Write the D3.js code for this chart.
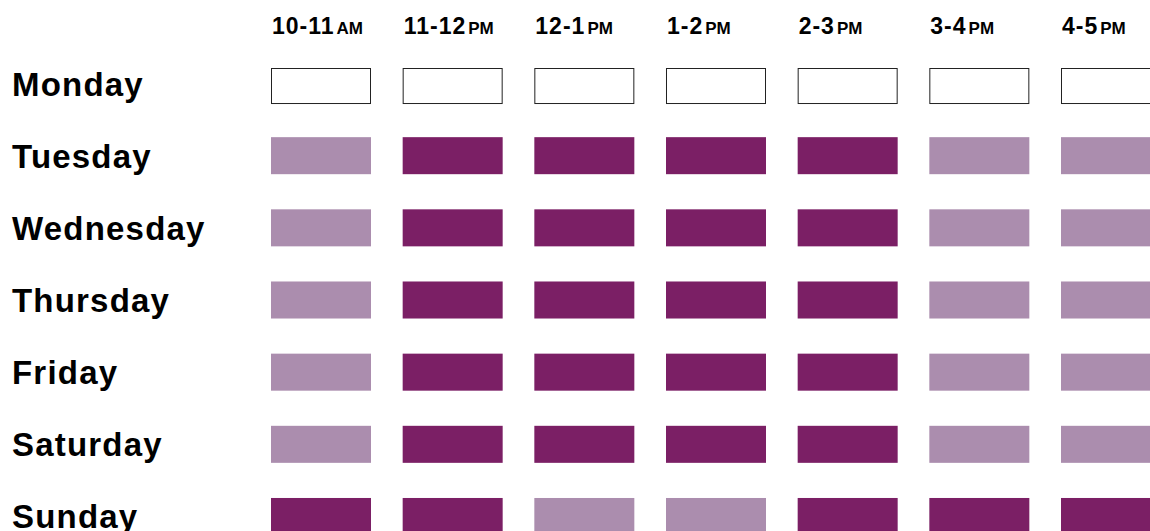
<!DOCTYPE html>
<html>
<head>
<meta charset="utf-8">
<script src="https://cdn.jsdelivr.net/npm/d3@7"></script>
<style>
  html, body { margin: 0; padding: 0; background: #fff; overflow: hidden; }
  text { font-family: "Liberation Sans", Arial, sans-serif; font-weight: bold; fill: #000; }
</style>
</head>
<body>
<div id="chart"></div>
<script>
// 曜日と時間帯
const days = ['Monday', 'Tuesday', 'Wednesday', 'Thursday', 'Friday', 'Saturday', 'Sunday'];
const hourNums = ['10-11', '11-12', '12-1', '1-2', '2-3', '3-4', '4-5'];
const hourSuffix = ['AM', 'PM', 'PM', 'PM', 'PM', 'PM', 'PM'];

// 0 = 枠のみ, 1 = 薄い, 2 = 濃い
const monday    = [0, 0, 0, 0, 0, 0, 0];
const tuesday   = [1, 2, 2, 2, 2, 1, 1];
const wednesday = [1, 2, 2, 2, 2, 1, 1];
const thursday  = [1, 2, 2, 2, 2, 1, 1];
const friday    = [1, 2, 2, 2, 2, 1, 1];
const saturday  = [1, 2, 2, 2, 2, 1, 1];
const sunday    = [2, 2, 1, 1, 2, 2, 2];
const levels = [monday, tuesday, wednesday, thursday, friday, saturday, sunday];

const width = 1150;
const height = 531;

const svg = d3.select('#chart')
  .append('svg')
  .attr('width', width)
  .attr('height', height);

const x = d3.scaleBand()
  .domain(hourNums)
  .range([271, 1161])
  .paddingInner(0.2405)
  .paddingOuter(0);

const y = d3.scaleBand()
  .domain(days)
  .range([65, 535])
  .paddingInner(0.487)
  .paddingOuter(0);

const color = d3.scaleOrdinal()
  .domain([1, 2])
  .range(['#ab8dae', '#7b1f65']);

// セルのデータを作る
const cells = [];
days.forEach((day, i) => {
  hourNums.forEach((h, j) => {
    cells.push({ day: day, hour: h, level: levels[i][j] });
  });
});

svg.append('g')
  .selectAll('rect')
  .data(cells)
  .enter()
  .append('rect')
  .attr('x', d => d.level === 0 ? x(d.hour) + 0.5 : x(d.hour))
  .attr('y', d => d.level === 0 ? y(d.day) + 3.5 : y(d.day))
  .attr('width', d => d.level === 0 ? x.bandwidth() - 1 : x.bandwidth())
  .attr('height', d => d.level === 0 ? y.bandwidth() - 2 : y.bandwidth())
  .attr('fill', d => d.level === 0 ? '#fff' : color(d.level))
  .attr('stroke', d => d.level === 0 ? '#222' : 'none')
  .attr('stroke-width', 1);

// 曜日ラベル
svg.append('g')
  .selectAll('text')
  .data(days)
  .enter()
  .append('text')
  .attr('x', 12)
  .attr('y', d => y(d) + 30.5)
  .style('font-size', '33px')
  .style('letter-spacing', '1.2px')
  .text(d => d);

// 時間帯ラベル
const head = svg.append('g')
  .selectAll('text')
  .data(hourNums)
  .enter()
  .append('text')
  .attr('x', d => x(d) + 1)
  .attr('y', 34);

head.append('tspan')
  .style('font-size', '23px')
  .style('letter-spacing', '1px')
  .text(d => d);

head.append('tspan')
  .style('font-size', '17px')
  .attr('dx', 2)
  .text((d, i) => hourSuffix[i]);
</script>
</body>
</html>
